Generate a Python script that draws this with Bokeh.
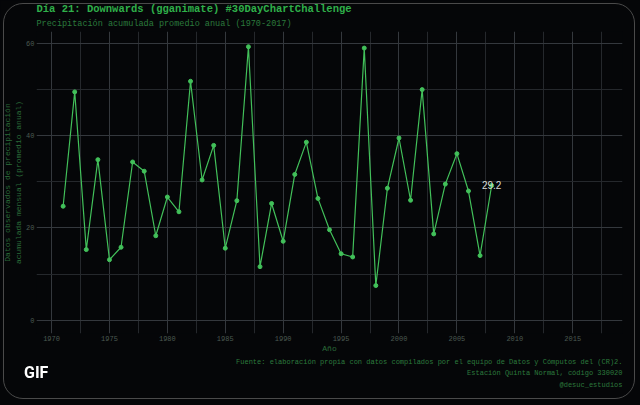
from bokeh.plotting import figure
from bokeh.models import Title, Range1d, FixedTicker, ColumnDataSource
from bokeh.embed import file_html
from bokeh.resources import INLINE
from bokeh.core.properties import value

# ---- data ----
years = list(range(1971, 2009))
precip = [24.7, 49.5, 15.3, 34.8, 13.1, 15.8, 34.3, 32.3, 18.3, 26.7,
          23.5, 51.8, 30.4, 37.9, 15.6, 25.9, 59.3, 11.6, 25.3, 17.1,
          31.6, 38.6, 26.4, 19.6, 14.4, 13.7, 59.0, 7.5, 28.6, 39.5,
          26.0, 50.0, 18.7, 29.5, 36.1, 28.0, 14.0, 29.2]
x_ticks = [1970, 1975, 1980, 1985, 1990, 1995, 2000, 2005, 2010, 2015]
y_ticks = [0, 20, 40, 60]

title_text = "Día 21: Downwards (gganimate) #30DayChartChallenge"
subtitle_text = "Precipitación acumulada promedio anual (1970-2017)"
ylab = "Datos observados de precipitación\nacumulada mensual (promedio anual)"
xlab = "Año"
caption = ["Fuente: elaboración propia con datos compilados por el equipo de Datos y Cómputos del (CR)2.",
           "Estación Quinta Normal, código 330020",
           "@desuc_estudios"]
caption_standoff = [0, 2, 2]
badge = "GIF"

BG = "#050608"
MONO = "Liberation Mono"

src = ColumnDataSource(dict(x=years, y=precip))
last = ColumnDataSource(dict(x=[years[-1]], y=[precip[-1]], t=[f"{precip[-1]:.1f}"]))

p = figure(width=624, height=389, output_backend="svg", toolbar_location=None,
           x_range=Range1d(1968.7, 2019.3), y_range=Range1d(-2.9, 62.6),
           background_fill_color=BG, border_fill_color=BG,
           min_border_left=10, min_border_right=2, min_border_top=23, min_border_bottom=0)
p.outline_line_color = None

# subtitle (nearest frame) then main title
p.add_layout(Title(text=subtitle_text, align="left", text_font=MONO, text_font_size="8.5px",
                   text_color="#2b7a3c", text_font_style="normal", standoff=5), "above")
p.add_layout(Title(text=title_text, align="left", text_font=MONO, text_font_size="10.5px",
                   text_color="#2fb04a", text_font_style="bold", standoff=0), "above")

# grid
mx = [(a + b) / 2 for a, b in zip(x_ticks[:-1], x_ticks[1:])]
mx = [x_ticks[0] - 2.5] + mx + [x_ticks[-1] + 2.5]
my = [(a + b) / 2 for a, b in zip(y_ticks[:-1], y_ticks[1:])]
p.xaxis.ticker = FixedTicker(ticks=x_ticks, minor_ticks=mx)
p.yaxis.ticker = FixedTicker(ticks=y_ticks, minor_ticks=my)
for g in (p.xgrid[0], p.ygrid[0]):
    g.grid_line_color = "#34383d"
    g.grid_line_width = 1
    g.minor_grid_line_color = "#25282c"
    g.minor_grid_line_width = 1

for ax in (p.xaxis[0], p.yaxis[0]):
    ax.axis_line_color = None
    ax.major_tick_line_color = None
    ax.minor_tick_line_color = None
    ax.major_tick_out = 0
    ax.major_tick_in = 0
    ax.minor_tick_out = 0
    ax.minor_tick_in = 0
    ax.major_label_text_font = MONO
    ax.major_label_text_font_size = "7px"
    ax.major_label_text_color = "#4b5a52"
    ax.axis_label_text_font = MONO
    ax.axis_label_text_font_style = "normal"
    ax.axis_label_text_font_size = "8.5px"
    ax.axis_label_text_color = "#2a6b38"

p.xaxis.major_label_standoff = 2
p.xaxis.axis_label = xlab
p.xaxis.axis_label_standoff = 0
p.xaxis.axis_label_text_font_size = "8px"
p.yaxis.major_label_standoff = 2
p.yaxis.axis_label = ylab
p.yaxis.axis_label_standoff = 0
p.yaxis.axis_label_text_font_size = "8px"

# caption lines below
for line, so in zip(caption, caption_standoff):
    p.add_layout(Title(text=line, align="right", text_font=MONO, text_font_size="7px",
                       text_color="#2c7a3d", text_font_style="normal", standoff=so), "below")

# data
p.line("x", "y", source=src, line_color="#42c05a", line_width=1.2)
p.scatter("x", "y", source=src, size=4, fill_color="#42c05a", line_color="#42c05a")
p.text("x", "y", text="t", source=last, text_align="center", text_baseline="middle",
       text_font=value("Liberation Sans"), text_font_size="10px", text_color="#d8dcd8")

html = file_html(p, INLINE)
css = ("<style>html,body{background:%s;}"
       "body::after{content:'';position:fixed;left:3px;top:3px;width:632px;height:396px;"
       "border:1px solid #4a4a4a;border-radius:20px;pointer-events:none;box-sizing:border-box;}"
       "body::before{content:'%s';position:fixed;left:24px;top:363px;font-family:Roboto,sans-serif;"
       "font-weight:bold;font-size:16px;color:#ffffff;z-index:10;pointer-events:none;}</style>" % (BG, badge))
html = html.replace("</head>", css + "</head>", 1)
open("out.html", "w").write(html)
